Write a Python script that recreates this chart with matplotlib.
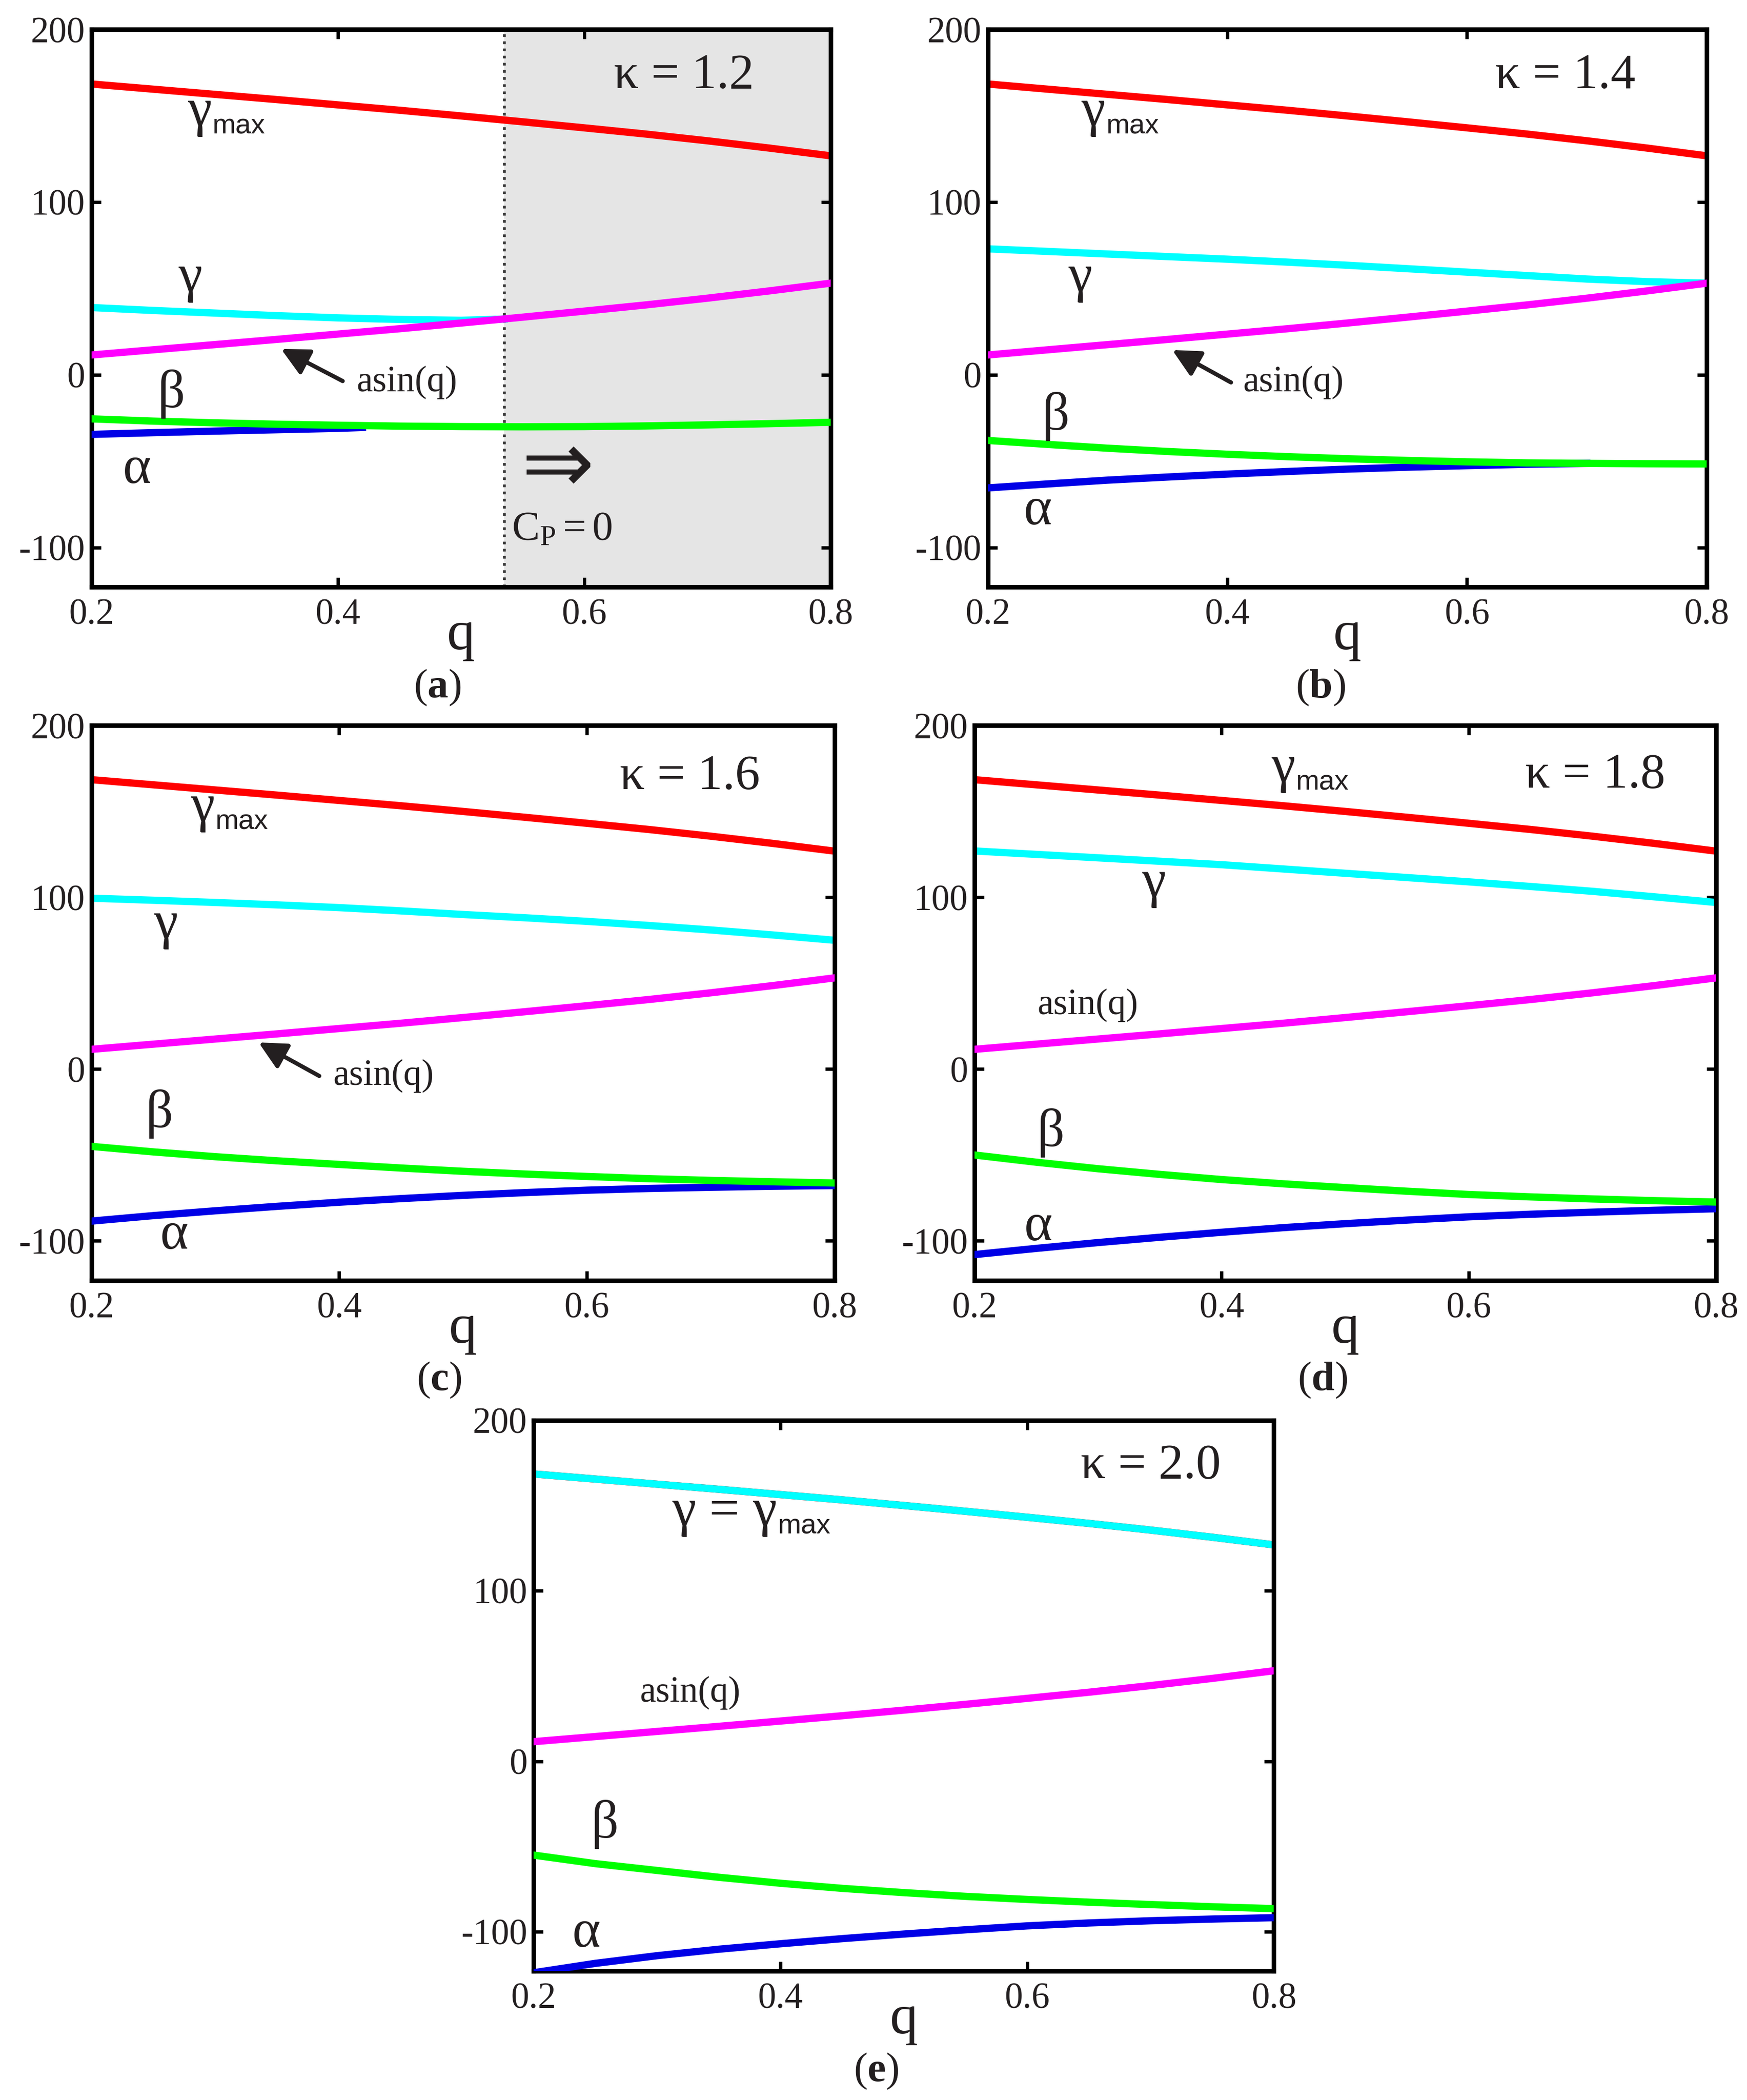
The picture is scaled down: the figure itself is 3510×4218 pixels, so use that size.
import matplotlib
matplotlib.use("Agg")
import matplotlib.pyplot as plt

plt.rcParams['font.family'] = ['Liberation Serif', 'DejaVu Serif']
plt.rcParams['axes.unicode_minus'] = False
plt.rcParams['mathtext.fontset'] = 'custom'
plt.rcParams['mathtext.rm'] = 'Liberation Serif'
plt.rcParams['mathtext.it'] = 'Liberation Serif:italic'
plt.rcParams['mathtext.bf'] = 'Liberation Serif:bold'
plt.rcParams['mathtext.sf'] = 'Liberation Sans'

# ---------------- data (degrees) ----------------
q = [0.20, 0.25, 0.30, 0.35, 0.40, 0.45, 0.50, 0.55, 0.60, 0.65, 0.70, 0.75, 0.80]
asin_q = [11.5, 14.5, 17.5, 20.5, 23.6, 26.7, 30.0, 33.4, 36.9, 40.5, 44.4, 48.6, 53.1]
gamma_max = [168.5, 165.5, 162.5, 159.5, 156.4, 153.3, 150.0, 146.6, 143.1, 139.5, 135.6, 131.4, 126.9]

# (a) kappa = 1.2
q_a_gamma = [0.20, 0.25, 0.30, 0.35, 0.40, 0.45, 0.50, 0.535]
gamma_a = [39.0, 37.3, 35.8, 34.3, 33.0, 32.1, 31.6, 32.3]
beta_a = [-25.5, -26.8, -27.8, -28.6, -29.2, -29.7, -30.0, -30.1, -30.0, -29.6, -29.0, -28.3, -27.5]
q_a_alpha = [0.20, 0.25, 0.30, 0.35, 0.40, 0.42]
alpha_a = [-34.5, -33.5, -32.6, -31.8, -31.0, -30.5]
q_a_cp = 0.535

# (b) kappa = 1.4
gamma_b = [73.0, 71.5, 70.0, 68.5, 67.0, 65.3, 63.5, 61.5, 59.5, 57.5, 55.5, 54.0, 53.1]
beta_b = [-38.0, -40.3, -42.5, -44.4, -46.0, -47.4, -48.6, -49.6, -50.4, -51.0, -51.3, -51.5, -51.6]
q_b_alpha = [0.20, 0.25, 0.30, 0.35, 0.40, 0.45, 0.50, 0.55, 0.60, 0.65, 0.70]
alpha_b = [-65.5, -63.2, -61.0, -59.2, -57.5, -56.0, -54.6, -53.5, -52.6, -51.8, -51.3]

# (c) kappa = 1.6
gamma_c = [99.5, 98.3, 97.0, 95.6, 94.0, 92.1, 90.0, 88.1, 86.0, 83.6, 81.0, 78.1, 75.0]
beta_c = [-45.0, -48.2, -51.0, -53.4, -55.5, -57.6, -59.5, -61.1, -62.5, -63.8, -64.8, -65.6, -66.3]
alpha_c = [-88.5, -85.3, -82.5, -79.9, -77.5, -75.4, -73.5, -71.9, -70.5, -69.5, -68.8, -68.2, -67.8]

# (d) kappa = 1.8
gamma_d = [127.0, 125.0, 123.0, 121.0, 119.0, 116.5, 114.0, 111.5, 109.0, 106.3, 103.5, 100.3, 97.0]
beta_d = [-50.0, -54.2, -58.0, -61.3, -64.3, -66.8, -69.0, -71.1, -73.0, -74.4, -75.6, -76.6, -77.4]
alpha_d = [-108.0, -104.4, -101.0, -97.9, -95.0, -92.3, -90.0, -87.9, -86.0, -84.5, -83.3, -82.2, -81.3]

# (e) kappa = 2.0  (gamma = gamma_max)
gamma_e = [168.5, 165.5, 162.5, 159.5, 156.4, 153.3, 150.0, 146.6, 143.1, 139.5, 135.6, 131.4, 126.9]
beta_e = [-55.0, -60.0, -64.0, -68.0, -71.5, -74.5, -77.0, -79.2, -81.0, -82.6, -84.0, -85.3, -86.4]
alpha_e = [-124.0, -118.5, -114.0, -110.2, -107.0, -104.0, -101.3, -98.8, -96.5, -94.8, -93.5, -92.5, -91.7]

kappas = ['1.2', '1.4', '1.6', '1.8', '2.0']
panel_letters = ['a', 'b', 'c', 'd', 'e']
x_ticks = [0.2, 0.4, 0.6, 0.8]
x_ticklabels = ['0.2', '0.4', '0.6', '0.8']
y_ticks = [-100, 0, 100, 200]
y_ticklabels = ['-100', '0', '100', '200']

# ---------------- style ----------------
C_RED = '#ff0000'
C_CYAN = '#00ffff'
C_MAG = '#ff00ff'
C_GREEN = '#00ff00'
C_BLUE = '#0000e6'
TXT = '#231f20'
LW = 3.5

fig = plt.figure(figsize=(11.7, 14.06), dpi=300)

rects = [
    [0.0523, 0.7204, 0.4231, 0.2655],
    [0.5654, 0.7204, 0.4115, 0.2655],
    [0.0523, 0.3903, 0.4254, 0.2642],
    [0.5577, 0.3903, 0.4246, 0.2642],
    [0.3054, 0.0614, 0.4238, 0.2623],
]
axes = [fig.add_axes(r) for r in rects]


def style(ax):
    ax.set_xlim(0.2, 0.8)
    ax.set_ylim(-123, 200)
    ax.set_xticks(x_ticks)
    ax.set_xticklabels(x_ticklabels)
    ax.set_yticks(y_ticks)
    ax.set_yticklabels(y_ticklabels)
    for s in ax.spines.values():
        s.set_linewidth(2.2)
        s.set_color('black')
    ax.tick_params(direction='in', top=True, right=True, length=4.5, width=1.6,
                   labelsize=17.5, labelcolor=TXT, color='black')
    ax.tick_params(axis='x', pad=5.5)
    ax.tick_params(axis='y', pad=3)
    ax.annotate('q', xy=(0.5, 0), xycoords='axes fraction', xytext=(0, -23.5),
                textcoords='offset points', ha='center', va='center',
                fontsize=27, color=TXT)


def greek(ax, x, y, s, size=26):
    ax.text(x, y, s, ha='center', va='center', fontsize=size, color=TXT, zorder=6)


def gmax_label(ax, x, y, prefix='γ'):
    t = ax.text(x, y, prefix, ha='left', va='center', fontsize=26, color=TXT, zorder=6)
    ax.annotate('max', xy=(1, 0), xycoords=t, xytext=(0.5, 1.5), textcoords='offset points',
                ha='left', va='baseline', fontsize=13.5, color=TXT,
                fontfamily='Liberation Sans', zorder=6)


def kappa_label(ax, x, y, k):
    ax.text(x, y, 'κ = ' + k, ha='center', va='center', fontsize=24, color=TXT, zorder=6)


def asin_arrow(ax, tx, ty, tail, head):
    ax.text(tx, ty, 'asin(q)', ha='center', va='center', fontsize=17.5, color=TXT, zorder=6)
    if tail is not None:
        ax.annotate('', xy=head, xytext=tail,
                    arrowprops=dict(arrowstyle='-|>', color=TXT, lw=2.0,
                                    mutation_scale=28, shrinkA=0, shrinkB=0), zorder=6)


# ---------------- (a) ----------------
ax = axes[0]
style(ax)
ax.axvspan(q_a_cp, 0.8, color='#e5e5e5', zorder=0, lw=0)
ax.axvline(q_a_cp, color='#333333', ls=':', lw=1.3, zorder=1)
ax.plot(q, gamma_max, color=C_RED, lw=LW, zorder=2)
ax.plot(q_a_gamma, gamma_a, color=C_CYAN, lw=LW, zorder=2)
ax.plot(q, asin_q, color=C_MAG, lw=LW, zorder=3)
ax.plot(q_a_alpha, alpha_a, color=C_BLUE, lw=LW, zorder=3)
ax.plot(q, beta_a, color=C_GREEN, lw=LW, zorder=4)
gmax_label(ax, 0.278, 152)
greek(ax, 0.280, 56, 'γ')
asin_arrow(ax, 0.456, -4.4, (0.404, -3.6), (0.354, 15))
greek(ax, 0.265, -11, 'β')
greek(ax, 0.237, -55, 'α')
kappa_label(ax, 0.681, 173, kappas[0])
ax.text(0.579, -54, '⇒', ha='center', va='center', fontsize=42, color=TXT,
        fontfamily='DejaVu Sans', zorder=6)
ax.text(0.582, -90, r'$\mathrm{C_P = 0}$', ha='center', va='center', fontsize=20,
        color=TXT, zorder=6)

# ---------------- (b) ----------------
ax = axes[1]
style(ax)
ax.plot(q, gamma_max, color=C_RED, lw=LW, zorder=2)
ax.plot(q, gamma_b, color=C_CYAN, lw=LW, zorder=2)
ax.plot(q, asin_q, color=C_MAG, lw=LW, zorder=3)
ax.plot(q_b_alpha, alpha_b, color=C_BLUE, lw=LW, zorder=3)
ax.plot(q, beta_b, color=C_GREEN, lw=LW, zorder=4)
gmax_label(ax, 0.278, 152)
greek(ax, 0.277, 56, 'γ')
asin_arrow(ax, 0.455, -4.4, (0.403, -4.4), (0.354, 14.4))
greek(ax, 0.257, -24, 'β')
greek(ax, 0.242, -79, 'α')
kappa_label(ax, 0.682, 173, kappas[1])

# ---------------- (c) ----------------
ax = axes[2]
style(ax)
ax.plot(q, gamma_max, color=C_RED, lw=LW, zorder=2)
ax.plot(q, gamma_c, color=C_CYAN, lw=LW, zorder=2)
ax.plot(q, asin_q, color=C_MAG, lw=LW, zorder=3)
ax.plot(q, alpha_c, color=C_BLUE, lw=LW, zorder=3)
ax.plot(q, beta_c, color=C_GREEN, lw=LW, zorder=4)
gmax_label(ax, 0.280, 152)
greek(ax, 0.260, 84, 'γ')
asin_arrow(ax, 0.436, -4, (0.384, -4), (0.335, 15.5))
greek(ax, 0.255, -26, 'β')
greek(ax, 0.267, -97, 'α')
kappa_label(ax, 0.683, 170, kappas[2])

# ---------------- (d) ----------------
ax = axes[3]
style(ax)
ax.plot(q, gamma_max, color=C_RED, lw=LW, zorder=2)
ax.plot(q, gamma_d, color=C_CYAN, lw=LW, zorder=2)
ax.plot(q, asin_q, color=C_MAG, lw=LW, zorder=3)
ax.plot(q, alpha_d, color=C_BLUE, lw=LW, zorder=3)
ax.plot(q, beta_d, color=C_GREEN, lw=LW, zorder=4)
gmax_label(ax, 0.440, 175)
greek(ax, 0.345, 108, 'γ')
asin_arrow(ax, 0.292, 37, None, None)
greek(ax, 0.262, -37, 'β')
greek(ax, 0.252, -92, 'α')
kappa_label(ax, 0.702, 171, kappas[3])

# ---------------- (e) ----------------
ax = axes[4]
style(ax)
ax.plot(q, gamma_max, color=C_RED, lw=LW, zorder=2)
ax.plot(q, gamma_e, color=C_CYAN, lw=LW, zorder=2)
ax.plot(q, asin_q, color=C_MAG, lw=LW, zorder=3)
ax.plot(q, alpha_e, color=C_BLUE, lw=LW, zorder=3)
ax.plot(q, beta_e, color=C_GREEN, lw=LW, zorder=4)
gmax_label(ax, 0.312, 146, prefix='γ = γ')
asin_arrow(ax, 0.327, 40, None, None)
greek(ax, 0.258, -37, 'β')
greek(ax, 0.243, -101, 'α')
kappa_label(ax, 0.70, 173, kappas[4])

# ---------------- panel letters ----------------
letter_pos = [(0.2505, 0.6726), (0.756, 0.6726), (0.2515, 0.3428), (0.757, 0.3428), (0.5015, 0.0137)]
for (lx, ly), L in zip(letter_pos, panel_letters):
    fig.text(lx, ly, '($\\mathbf{' + L + '}$)', ha='center', va='center',
             fontsize=20, color=TXT)

fig.savefig('out.png', dpi=300, facecolor='white')
